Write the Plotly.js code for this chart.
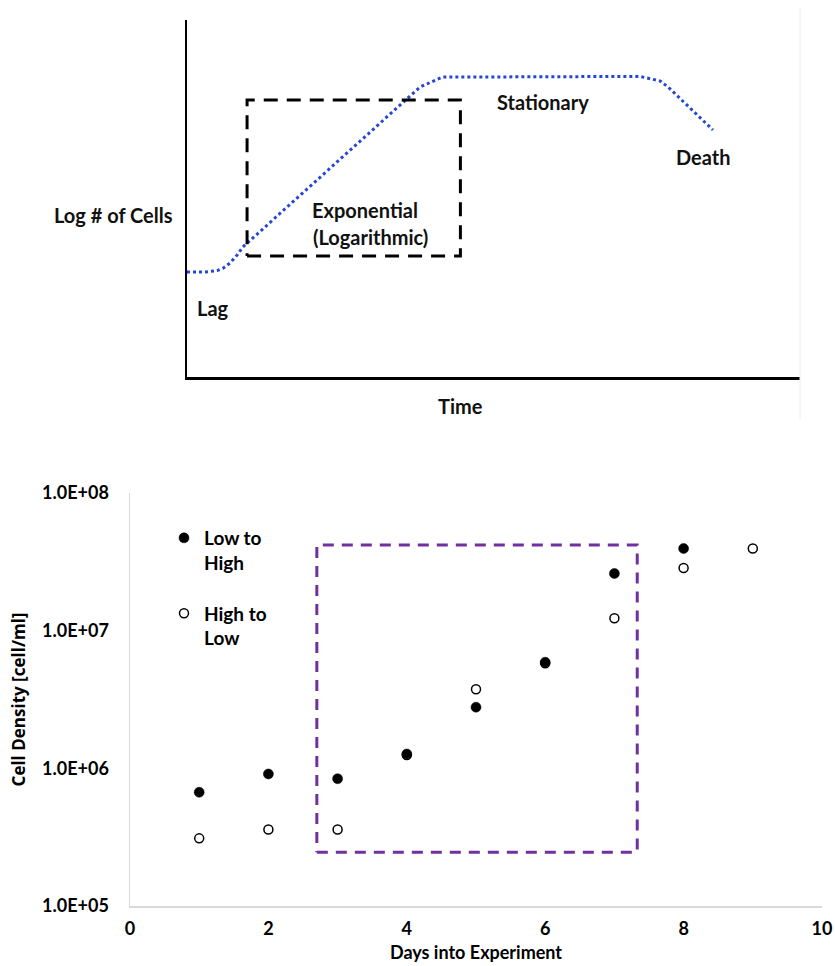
<!DOCTYPE html>
<html>
<head>
<meta charset="utf-8">
<script src="https://cdn.plot.ly/plotly-3.0.1.min.js"></script>
<style>
  html, body { margin: 0; padding: 0; background: #fff; }
  #chart { width: 835px; height: 966px; }
</style>
</head>
<body>
<div id="chart"></div>
<script>
// ---------- Top schematic: bacterial growth curve ----------
const growthTime      = [0, 2.9, 4.9, 5.9, 7.0, 8.2, 9.1, 35.6, 38.0, 41.6, 73.9, 77.2, 78.5, 85.8];
const growthLogCells  = [29.4, 29.4, 29.8, 30.5, 31.9, 34.2, 36.4, 77.6, 81.2, 84.0, 84.2, 82.9, 81.2, 69.2];
const expBoxTime      = [9.8, 44.6];
const expBoxLogCells  = [33.9, 77.6];
const phaseLabels     = ['Lag', 'Exponential', '(Logarithmic)', 'Stationary', 'Death'];
const phaseLabelTime  = [4.3, 29.0, 30.0, 58.1, 84.2];
const phaseLabelCells = [19.2, 46.8, 39.2, 77.1, 61.7];

// ---------- Bottom chart: cell density ----------
const daysLowToHigh    = [1, 2, 3, 4, 5, 6, 7, 8];
const densityLowToHigh = [6.7e5, 9.1e5, 8.4e5, 1.27e6, 2.78e6, 5.9e6, 2.6e7, 3.95e7];
const daysHighToLow    = [1, 2, 3, 4, 5, 6, 7, 8, 9];
const densityHighToLow = [3.1e5, 3.6e5, 3.6e5, 1.25e6, 3.75e6, 5.8e6, 1.23e7, 2.85e7, 3.95e7];
const boxDays          = [2.7, 7.33];
const boxDensity       = [2.46e5, 4.19e7];
const xTickVals        = [0, 2, 4, 6, 8, 10];
const yTickVals        = [1e5, 1e6, 1e7, 1e8];
const yTickText        = ['1.0E+05', '1.0E+06', '1.0E+07', '1.0E+08'];

const W = 835, H = 966;
const px = v => v / W;
const py = v => 1 - v / H;

const closedX = r => [r[0], r[1], r[1], r[0], r[0]];
const closedY = r => [r[0], r[0], r[1], r[1], r[0]];

const traces = [
  { // growth curve
    x: growthTime, y: growthLogCells, xaxis: 'x2', yaxis: 'y2',
    type: 'scatter', mode: 'lines', showlegend: false, hoverinfo: 'skip',
    line: { color: '#2346d6', width: 3, dash: 'dot' }
  },
  { // exponential box
    x: closedX(expBoxTime), y: closedY(expBoxLogCells), xaxis: 'x2', yaxis: 'y2',
    type: 'scatter', mode: 'lines', showlegend: false, hoverinfo: 'skip',
    line: { color: '#000', width: 3, dash: '14px,9px' }
  },
  { // purple box
    x: closedX(boxDays), y: closedY(boxDensity), xaxis: 'x', yaxis: 'y',
    type: 'scatter', mode: 'lines', showlegend: false, hoverinfo: 'skip',
    line: { color: '#7030a0', width: 3, dash: '11px,8px' }
  },
  {
    name: 'High to<br>Low', x: daysHighToLow, y: densityHighToLow,
    type: 'scatter', mode: 'markers', legendgroup: 'b', legendrank: 2,
    marker: { symbol: 'circle', size: 9, color: '#fff', line: { color: '#000', width: 1.5 } }
  },
  {
    name: 'Low to<br>High', x: daysLowToHigh, y: densityLowToHigh,
    type: 'scatter', mode: 'markers', legendgroup: 'a', legendrank: 1,
    marker: { symbol: 'circle', size: 10, color: '#000', line: { color: '#000', width: 0.5 } }
  }
];

const topFont = { family: 'Lato, sans-serif', size: 20, weight: 700, color: '#111' };

const annotations = phaseLabels.map((t, i) => ({
  text: t, x: phaseLabelTime[i], y: phaseLabelCells[i], xref: 'x2', yref: 'y2',
  showarrow: false, xanchor: 'center', yanchor: 'middle', font: topFont
}));
annotations.push({ text: 'Log # of Cells', x: px(113), y: py(215), xref: 'paper', yref: 'paper',
  showarrow: false, xanchor: 'center', yanchor: 'middle', font: topFont });
annotations.push({ text: 'Time', x: px(460), y: py(406), xref: 'paper', yref: 'paper',
  showarrow: false, xanchor: 'center', yanchor: 'middle', font: topFont });

const layout = {
  width: W, height: H,
  margin: { l: 0, r: 0, t: 0, b: 0 },
  paper_bgcolor: '#fff', plot_bgcolor: '#fff',
  font: { family: 'Lato, sans-serif', color: '#000' },
  showlegend: true,
  xaxis: {
    domain: [px(130), px(822)], anchor: 'y', range: [0, 10],
    tickmode: 'array', tickvals: xTickVals,
    showline: true, linecolor: '#d9d9d9', linewidth: 1.5,
    showgrid: false, zeroline: false, ticks: '',
    tickfont: { size: 18, weight: 700, color: '#000' }, ticklabelstandoff: 6,
    title: { text: 'Days into Experiment', font: { size: 18, weight: 700, color: '#000' }, standoff: 8 }
  },
  yaxis: {
    domain: [py(906), py(493)], anchor: 'x', type: 'log', range: [5, 8],
    tickmode: 'array', tickvals: yTickVals, ticktext: yTickText,
    showline: true, linecolor: '#d9d9d9', linewidth: 1.5,
    showgrid: false, zeroline: false, ticks: '',
    tickfont: { size: 18, weight: 700, color: '#000' }, ticklabelstandoff: 16,
    title: { text: 'Cell Density [cell/ml]', font: { family: '"Open Sans", sans-serif', size: 17, weight: 700, color: '#000' }, standoff: 12 }
  },
  xaxis2: {
    domain: [px(187), px(800)], anchor: 'y2', range: [0, 100],
    showline: true, linecolor: '#000', linewidth: 2.5,
    showgrid: false, zeroline: false, ticks: '', showticklabels: false
  },
  yaxis2: {
    domain: [py(377), py(20)], anchor: 'x2', range: [0, 100],
    showline: true, linecolor: '#000', linewidth: 2.5,
    showgrid: false, zeroline: false, ticks: '', showticklabels: false
  },
  legend: {
    x: px(164), xanchor: 'left', y: py(519), yanchor: 'top',
    valign: 'top', traceorder: 'grouped', tracegroupgap: 23,
    bgcolor: 'rgba(0,0,0,0)', borderwidth: 0,
    font: { family: 'Lato, sans-serif', size: 19, weight: 700, color: '#000' }
  },
  shapes: [
    { type: 'line', xref: 'paper', yref: 'paper', x0: px(800), x1: px(800), y0: py(8), y1: py(420),
      line: { color: '#eeeeee', width: 1 } }
  ],
  annotations: annotations
};

Plotly.newPlot('chart', traces, layout, { staticPlot: true, displayModeBar: false });
</script>
</body>
</html>
